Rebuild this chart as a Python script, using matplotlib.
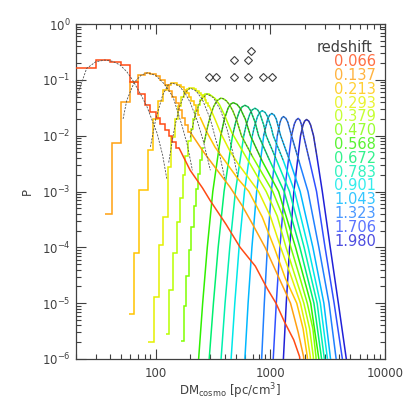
import matplotlib
matplotlib.use('Agg')
import numpy as np
import matplotlib.pyplot as plt
from matplotlib.ticker import LogLocator, FixedLocator, NullFormatter, FuncFormatter, LogFormatterSciNotation


# # # # # data # # # # #

redshifts = ['0.066', '0.137', '0.213', '0.293', '0.379', '0.470', '0.568',
             '0.672', '0.783', '0.901', '1.043', '1.323', '1.706', '1.980']
line_colors = ['#ff4a14', '#ffa010', '#ffc400', '#e4f000', '#b8ff00', '#80ff00', '#30f000',
               '#00f070', '#00f0b0', '#00e8e8', '#00b8ff', '#2080ff', '#3050ff', '#2020d8']

# stepped (histogram) part at low DM: bin edges and values
edges_066 = [20, 30, 40, 50, 60, 70, 80, 90, 100, 110, 120, 130, 140, 150, 160]
steps_066 = [0.165, 0.23, 0.21, 0.185, 0.09, 0.056, 0.036, 0.027, 0.021, 0.016, 0.0125, 0.0098, 0.0078, 0.006]
edges_137 = [36, 42, 50, 60, 70, 80, 90, 100, 110, 120, 130, 140, 150, 160, 170, 180, 190, 200]
steps_137 = [4e-4, 0.0074, 0.04, 0.092, 0.122, 0.133, 0.128, 0.115, 0.098, 0.08, 0.063, 0.049, 0.038,
             0.0285, 0.021, 0.0157, 0.0116]
edges_213 = [59, 65, 72, 85, 95, 105, 115, 125, 135, 145, 155, 165, 175, 185, 195, 205, 215, 225, 235, 245]
steps_213 = [6.5e-6, 7.8e-5, 1.05e-3, 5.5e-3, 0.02, 0.042, 0.065, 0.08, 0.088, 0.086, 0.081, 0.074,
             0.065, 0.057, 0.049, 0.042, 0.035, 0.029, 0.0235]
edges_293 = [86, 97, 107, 117, 127, 137, 147, 157, 167, 177, 187, 197, 207, 217, 227, 237, 247, 257,
             267, 277, 287, 297]
steps_293 = [2e-6, 1.3e-5, 1.1e-4, 3.5e-4, 0.0028, 0.0095, 0.02, 0.034, 0.049, 0.061, 0.069, 0.071,
             0.07, 0.0675, 0.0634, 0.0586, 0.0537, 0.0486, 0.0435, 0.0385, 0.0338]
edges_379 = [122, 132, 142, 152, 162, 172, 182, 192, 202, 212, 222, 232, 242, 252, 262, 272, 282, 292, 302]
steps_379 = [2.8e-6, 1.7e-5, 7.8e-5, 2.8e-4, 7.8e-4, 0.002, 0.0043, 0.0079, 0.0132, 0.02, 0.028,
             0.036, 0.0436, 0.05, 0.054, 0.056, 0.0555, 0.054]
edges_470 = [165, 175, 185, 195, 205, 215, 225, 235, 245, 255, 265]
steps_470 = [2.1e-6, 8.9e-6, 3.1e-5, 9.1e-5, 2.3e-4, 5.4e-4, 1.1e-3, 2.1e-3, 3.7e-3, 6e-3]

# smooth part (DM, P)
dm_066 = [160, 200, 256, 300, 410, 545, 740, 943, 1120, 1330, 1600, 1800, 1850]
p_066 = [0.006, 0.0024, 0.00116, 0.00068, 0.00026, 1e-4, 4.6e-5, 1.8e-5, 1e-5, 4.6e-6, 2.2e-6, 1.1e-6, 5e-7]
dm_137 = [200, 260, 330, 445, 570, 700, 900, 1150, 1500, 1750, 1950, 2000]
p_137 = [0.0116, 0.0052, 0.0027, 0.0012, 5.5e-4, 2.6e-4, 1e-4, 3.3e-5, 1e-5, 3e-6, 1.1e-6, 5e-7]
dm_213 = [245, 280, 330, 400, 520, 650, 850, 1080, 1350, 1700, 1930, 2100, 2150]
p_213 = [0.021, 0.0115, 0.0062, 0.0036, 0.0017, 1e-3, 3.5e-4, 1e-4, 2.8e-5, 1e-5, 3.5e-6, 1.1e-6, 5e-7]
dm_293 = [297, 330, 370, 440, 520, 790, 1000, 1230, 1520, 1830, 2050, 2230, 2280]
p_293 = [0.032, 0.0195, 0.011, 0.0055, 0.0032, 1e-3, 3.6e-4, 1e-4, 3e-5, 1e-5, 3.5e-6, 1.1e-6, 5e-7]
dm_379 = [302, 330, 360, 400, 460, 600, 920, 1150, 1370, 1650, 1960, 2200, 2370, 2420]
p_379 = [0.053, 0.0464, 0.036, 0.023, 0.0115, 0.0045, 1e-3, 3.6e-4, 1e-4, 3e-5, 1e-5, 3.5e-6, 1.1e-6, 5e-7]
dm_470 = [265, 280, 300, 320, 340, 370, 390, 415, 440, 470, 510, 560, 700, 1050, 1300, 1510, 1800,
          2100, 2350, 2500, 2550]
p_470 = [0.0075, 0.0129, 0.0227, 0.033, 0.0418, 0.047, 0.0458, 0.0418, 0.0359, 0.0281, 0.0186, 0.01,
         0.0042, 1e-3, 3.4e-4, 1e-4, 3e-5, 1e-5, 3.5e-6, 1.1e-6, 5e-7]
dm_568 = [237, 257, 282, 315, 370, 397, 428, 448, 474, 512, 546, 606, 670, 850, 1180, 1660, 2250, 2650, 2700]
p_568 = [1e-6, 1e-5, 1e-4, 1e-3, 1e-2, 0.0196, 0.031, 0.0364, 0.039, 0.0364, 0.031, 0.0196, 0.01,
         0.0035, 1e-3, 1e-4, 1e-5, 1e-6, 5e-7]
dm_672 = [293, 319, 351, 395, 468, 499, 539, 566, 600, 640, 675, 736, 790, 980, 1320, 1810, 2400, 2800, 2850]
p_672 = [1e-6, 1e-5, 1e-4, 1e-3, 1e-2, 0.0175, 0.0278, 0.0327, 0.035, 0.0327, 0.0278, 0.0175, 0.01,
         0.0037, 1e-3, 1e-4, 1e-5, 1e-6, 5e-7]
dm_783 = [372, 403, 443, 496, 587, 616, 663, 694, 734, 776, 813, 876, 920, 1130, 1470, 1970, 2560, 2960, 3000]
p_783 = [1e-6, 1e-5, 1e-4, 1e-3, 1e-2, 0.0155, 0.0246, 0.0289, 0.031, 0.0289, 0.0246, 0.0155, 0.01,
         0.0037, 1e-3, 1e-4, 1e-5, 1e-6, 5e-7]
dm_901 = [455, 490, 534, 595, 697, 723, 774, 808, 850, 900, 943, 1018, 1060, 1290, 1630, 2140, 2730, 3150, 3200]
p_901 = [1e-6, 1e-5, 1e-4, 1e-3, 1e-2, 0.014, 0.0222, 0.0261, 0.028, 0.0261, 0.0222, 0.014, 0.01,
         0.0037, 1e-3, 1e-4, 1e-5, 1e-6, 5e-7]
dm_1043 = [600, 640, 691, 760, 875, 949, 985, 1030, 1081, 1126, 1230, 1480, 1820, 2350, 2930, 3350, 3400]
p_1043 = [1e-6, 1e-5, 1e-4, 1e-3, 1e-2, 0.0199, 0.0233, 0.025, 0.0233, 0.0199, 0.01, 0.0035, 1e-3,
          1e-4, 1e-5, 1e-6, 5e-7]
dm_1323 = [840, 886, 943, 1020, 1150, 1217, 1254, 1300, 1364, 1419, 1530, 1800, 2130, 2650, 3250, 3750, 3800]
p_1323 = [1e-6, 1e-5, 1e-4, 1e-3, 1e-2, 0.0175, 0.0205, 0.022, 0.0205, 0.0175, 0.01, 0.0032, 1e-3,
          1e-4, 1e-5, 1e-6, 5e-7]
dm_1706 = [1060, 1127, 1212, 1328, 1530, 1621, 1678, 1750, 1810, 1861, 1950, 2200, 2530, 3000, 3600, 4250, 4300]
p_1706 = [1e-6, 1e-5, 1e-4, 1e-3, 1e-2, 0.0162, 0.019, 0.0204, 0.019, 0.0162, 0.01, 0.0035, 1e-3,
          1e-4, 1e-5, 1e-6, 5e-7]
dm_1980 = [1300, 1377, 1473, 1604, 1834, 1928, 1991, 2070, 2165, 2247, 2380, 2550, 2840, 3330, 3920, 4600, 4650]
p_1980 = [1e-6, 1e-5, 1e-4, 1e-3, 1e-2, 0.0155, 0.0182, 0.0195, 0.0182, 0.0155, 0.01, 0.0042, 1e-3,
          1e-4, 1e-5, 1e-6, 5e-7]

# fitted curves (thin dashed) for the low redshift bins
fit_dm_066 = [20, 25, 30, 36, 42, 49, 56, 63, 74, 84, 95, 103, 115, 125]
fit_p_066 = [0.043, 0.16, 0.21, 0.226, 0.215, 0.184, 0.14, 0.099, 0.055, 0.033, 0.017, 0.011, 0.0045, 0.0017]
fit_dm_137 = [52, 56, 65, 75, 85, 100, 120, 142, 170, 190, 209]
fit_p_137 = [0.02, 0.043, 0.09, 0.122, 0.134, 0.12, 0.083, 0.049, 0.015, 0.0065, 0.0024]
fit_dm_213 = [90, 100, 115, 128, 139, 160, 180, 200, 230, 260, 300]
fit_p_213 = [0.0063, 0.0195, 0.053, 0.08, 0.088, 0.078, 0.0586, 0.0393, 0.0188, 0.0081, 0.0024]
fit_dm_293 = [130, 145, 160, 180, 200, 225, 256, 300, 356, 400]
fit_p_293 = [0.0033, 0.0128, 0.031, 0.059, 0.071, 0.0637, 0.044, 0.0197, 0.0053, 0.0017]
fit_dm_379 = [200, 220, 245, 280, 320, 370, 420, 470, 520]
fit_p_379 = [0.0093, 0.0223, 0.0421, 0.056, 0.0477, 0.028, 0.0129, 0.0051, 0.0018]

# observed sample (stacked symbols, fraction of 9)
obs_dm = [294, 336, 485, 642, 857, 1027, 485, 642, 674]
obs_frac = [1/9, 1/9, 1/9, 1/9, 1/9, 1/9, 2/9, 2/9, 3/9]


# # # # # group the curves # # # # #

all_edges = [edges_066, edges_137, edges_213, edges_293, edges_379, edges_470] + [None] * 8
all_steps = [steps_066, steps_137, steps_213, steps_293, steps_379, steps_470] + [None] * 8
all_dm = [dm_066, dm_137, dm_213, dm_293, dm_379, dm_470, dm_568, dm_672, dm_783, dm_901,
          dm_1043, dm_1323, dm_1706, dm_1980]
all_p = [p_066, p_137, p_213, p_293, p_379, p_470, p_568, p_672, p_783, p_901,
         p_1043, p_1323, p_1706, p_1980]
all_fit_dm = [fit_dm_066, fit_dm_137, fit_dm_213, fit_dm_293, fit_dm_379]
all_fit_p = [fit_p_066, fit_p_137, fit_p_213, fit_p_293, fit_p_379]

txt_col = '#404040'
fit_col = '#505050'


# # # # # figure # # # # #

fig = plt.figure(figsize=(4.07, 4.07), dpi=100)
ax = fig.add_axes([75.5 / 407, 1 - 359 / 407, 309.5 / 407, 335 / 407])
ax.set_xscale('log')
ax.set_yscale('log')

# draw high redshift first so the low redshift lines end on top
for i in reversed(range(len(redshifts))):
    col = line_colors[i]
    if all_edges[i] is not None:
        ax.stairs(all_steps[i], all_edges[i], baseline=None, color=col, lw=1.1, zorder=3)
    ax.plot(all_dm[i], all_p[i], color=col, lw=1.1, zorder=3)

    # fitted shape on top
    if i < len(all_fit_dm):
        ax.plot(all_fit_dm[i], all_fit_p[i], color=fit_col, lw=0.6, ls=(0, (2.5, 1.5)), zorder=4)
    else:
        dm = np.array(all_dm[i])
        p = np.array(all_p[i])
        core = p >= 2e-3
        ax.plot(dm[core], p[core], color=fit_col, lw=0.6, ls=(0, (2.5, 1.5)), zorder=4)

# observed sample
ax.plot(obs_dm, obs_frac, ls='none', marker='D', ms=3.8, mfc='none', mec='#404040', mew=0.8, zorder=5)

ax.set_xlim(20, 10000)
ax.set_ylim(1e-6, 1)

# ticks
ax.xaxis.set_major_locator(FixedLocator([100, 1000, 10000]))
ax.xaxis.set_major_formatter(FuncFormatter(lambda v, pos: '%d' % v))
ax.xaxis.set_minor_locator(LogLocator(base=10, subs=np.arange(2, 10)))
ax.xaxis.set_minor_formatter(NullFormatter())
ax.yaxis.set_major_locator(FixedLocator([1e-6, 1e-5, 1e-4, 1e-3, 1e-2, 1e-1, 1]))
ax.yaxis.set_major_formatter(LogFormatterSciNotation())
ax.yaxis.set_minor_locator(LogLocator(base=10, subs=np.arange(2, 10), numticks=20))
ax.yaxis.set_minor_formatter(NullFormatter())
ax.tick_params(which='both', direction='in', top=True, right=True, colors=txt_col,
               labelcolor=txt_col, labelsize=8.5, width=0.8)
ax.tick_params(which='major', length=7)
ax.tick_params(which='minor', length=3.5)
ax.tick_params(axis='x', pad=6)
for s in ax.spines.values():
    s.set_color(txt_col)
    s.set_linewidth(0.9)

ax.set_xlabel(r'DM$_{\rm cosmo}$ [pc/cm$^3$]', color=txt_col, fontsize=8.5, labelpad=1)
ax.set_ylabel('P', color=txt_col, fontsize=8.5, labelpad=6)

# legend as coloured text
ax.text(0.958, 0.931, 'redshift', transform=ax.transAxes, ha='right', va='center',
        color=txt_col, fontsize=10.5)
for i, z in enumerate(redshifts):
    ax.text(0.971, 0.8875 - 0.0412 * i, z, transform=ax.transAxes, ha='right', va='center',
            color=line_colors[i], alpha=0.8, fontsize=10.5)

fig.savefig('out.png', dpi=100)
